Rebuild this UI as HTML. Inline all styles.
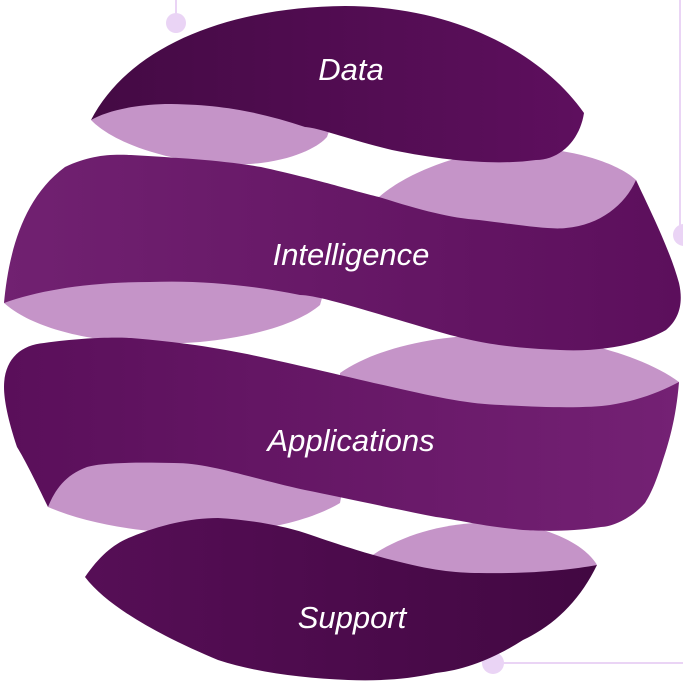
<!DOCTYPE html>
<html><head><style>
html,body{margin:0;padding:0;background:#fff;}
svg{display:block;}
text{font-family:"Liberation Sans",sans-serif;font-style:italic;fill:#fff;font-size:31px;text-anchor:middle;}
</style></head><body>
<svg width="683" height="683" viewBox="0 0 683 683" xmlns="http://www.w3.org/2000/svg">
<defs>
<linearGradient id="gd" x1="0" x2="1" y1="0" y2="0"><stop offset="0" stop-color="#440a44"/><stop offset="1" stop-color="#5e0f5e"/></linearGradient>
<linearGradient id="gi" x1="0" x2="1"><stop offset="0" stop-color="#712171"/><stop offset="1" stop-color="#5c0f5c"/></linearGradient>
<linearGradient id="ga" x1="0" x2="1"><stop offset="0" stop-color="#5a0f5a"/><stop offset="1" stop-color="#742174"/></linearGradient>
<linearGradient id="gs" x1="0" x2="1"><stop offset="0" stop-color="#560e56"/><stop offset="1" stop-color="#420842"/></linearGradient>
</defs>
<line x1="176" y1="0" x2="176" y2="22" stroke="#ead4f5" stroke-width="2"/>
<circle cx="176" cy="23" r="10" fill="#ead4f5"/>
<line x1="680" y1="0" x2="680" y2="235" stroke="#ead4f5" stroke-width="2"/>
<circle cx="684" cy="235" r="11" fill="#ead4f5"/>
<line x1="493" y1="663" x2="683" y2="663" stroke="#ead4f5" stroke-width="2"/>
<circle cx="493" cy="663" r="11" fill="#ead4f5"/>
<g fill="#c594c8">
<path d="M91,120 C120,150 200,170 261,163 C300,158 320,145 327,137 L340,100 L120,90 Z"/>
<path d="M379,197 C410,170 470,148 530,148 C580,150 620,165 636,180 L650,240 L380,230 Z"/>
<path d="M4,303 C40,335 120,348 200,342 C270,335 305,318 320,305 L330,270 L10,270 Z"/>
<path d="M340,373 C380,345 450,332 523,335 C590,340 650,360 679,382 L670,430 L340,410 Z"/>
<path d="M48,507 C90,525 150,535 218,533 C280,530 320,515 340,503 L350,450 L40,450 Z"/>
<path d="M370,557 C400,535 450,520 501,523 C550,526 585,545 597,565 L560,585 L370,580 Z"/>
</g>
<path fill="url(#gd)" d="M91,120 C130,45 230,7 345,6 C450,6 540,50 584,113 C580,140 560,160 536,160 C500,165 450,162 392,150 C350,140 320,128 305,127 C260,112 220,104 165,104 C130,105 105,112 91,120 Z"/>
<path fill="url(#gi)" d="M4,303 C8,260 20,200 65,167 C90,155 110,154 131,155 C180,158 220,160 261,167 C320,180 350,190 379,197 C420,210 450,218 479,220 C520,225 550,230 566,228 C600,225 625,205 636,180 C650,210 670,250 679,283 C684,305 678,320 666,330 C640,345 600,352 560,350 C500,348 470,340 450,335 C380,315 320,295 300,295 C250,285 200,280 150,282 C90,282 40,290 4,303 Z"/>
<path fill="url(#ga)" d="M4,387 C4,360 20,345 44,343 C80,338 110,337 131,338 C180,342 220,348 261,357 C320,370 360,380 392,387 C440,398 470,404 501,405 C550,408 590,408 610,405 C640,400 660,392 679,382 C676,420 668,445 662,463 C655,485 650,495 645,503 C630,520 610,527 601,527 C570,532 540,531 523,530 C480,526 460,520 436,517 C390,508 340,497 305,490 C250,478 210,463 174,463 C130,462 100,463 87,467 C65,475 55,490 48,507 C35,480 25,460 17,447 C8,420 4,400 4,387 Z"/>
<path fill="url(#gs)" d="M85,577 C100,555 115,543 131,537 C160,525 190,518 218,518 C250,520 280,525 305,533 C340,545 365,553 392,560 C430,570 455,573 479,573 C530,574 570,570 597,565 C580,600 555,625 523,640 C495,658 465,670 436,673 C405,680 375,681 348,680 C300,678 255,672 218,660 C170,640 110,610 85,577 Z"/>
<text x="351" y="80">Data</text>
<text x="351" y="265">Intelligence</text>
<text x="351" y="451">Applications</text>
<text x="352" y="628">Support</text>
</svg>
</body></html>
